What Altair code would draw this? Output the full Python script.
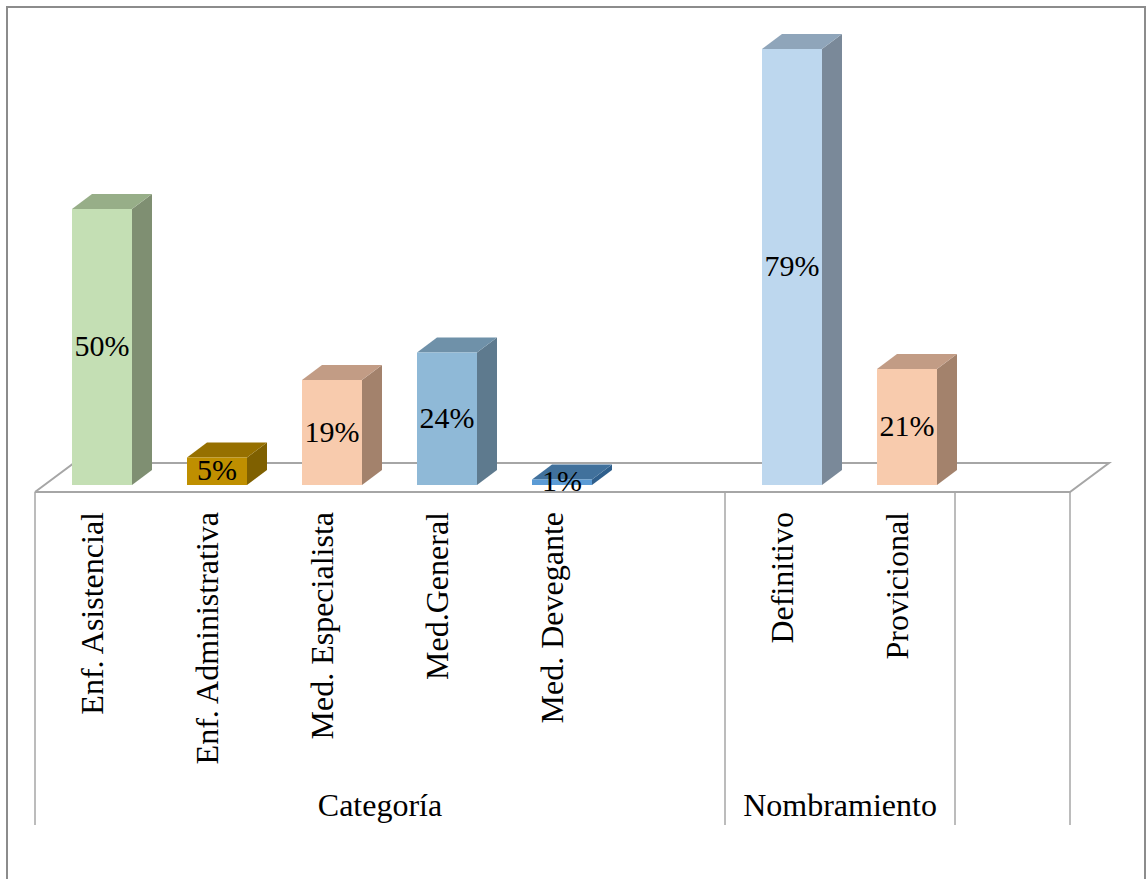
import altair as alt
import pandas as pd

# ---- data -------------------------------------------------------------
categories = ["Enf. Asistencial", "Enf. Administrativa", "Med. Especialista",
              "Med.General", "Med. Devegante", "Definitivo", "Provicional"]
slots = [0, 1, 2, 3, 4, 6, 7]            # slot 5 and slot 8 stay empty
values = [50, 5, 19, 24, 1, 79, 21]       # percent
labels = ["50%", "5%", "19%", "24%", "1%", "79%", "21%"]

groups = ["Categoría", "Nombramiento"]
group_start = [0, 6]
group_end = [6, 8]
n_slots = 9

front_colors = ["#C4DFB4", "#BF8F00", "#F8CBAD", "#8FB9D7", "#5B9BD5", "#BDD7EE", "#F8CBAD"]
side_colors = ["#7F8F72", "#7F6000", "#A3826C", "#5E7A8E", "#2F5F8C", "#7A8999", "#A3826C"]
top_colors = ["#97AE88", "#967000", "#C29C85", "#6F91A9", "#41719C", "#8FA5BA", "#C29C85"]

# ---- geometry of the pseudo-3D look (converted to data units) ----------
X0, X1 = 35, 1070                 # pixel span of the category axis
SLOT_PX = (X1 - X0) / n_slots
Y_BASE = 485                      # pixel row of value 0
PX_PER_PCT = 5.52
Y_TOP_VAL = 80

bar_w = 60 / SLOT_PX
bar_off = 9.5 / SLOT_PX           # bars sit a little back on the floor
dx = 20 / SLOT_PX                 # bar depth
dy = 15 / PX_PER_PCT
floor_front = -7 / PX_PER_PCT
floor_back = 22 / PX_PER_PCT
floor_dx = 39 / SLOT_PX
label_top = -27 / PX_PER_PCT
sep_bottom = -340 / PX_PER_PCT
group_y = -321 / PX_PER_PCT

xs = alt.Scale(domain=[0, n_slots], range=[X0, X1], zero=False, nice=False)
ys = alt.Scale(domain=[0, Y_TOP_VAL], range=[Y_BASE, Y_BASE - Y_TOP_VAL * PX_PER_PCT],
               zero=False, nice=False)

front_rows, side_rows, top_rows = [], [], []
for name, s, v, fc, sc, tc, lab in zip(categories, slots, values, front_colors,
                                       side_colors, top_colors, labels):
    c = s + 0.5 + bar_off
    L, R = c - bar_w / 2, c + bar_w / 2
    front_rows.append(dict(name=name, L=L, R=R, v=v, mid=v / 2, c=c, color=fc, label=lab))
    side_rows += [dict(name=name, x=R, y=0, y2=v, color=sc),
                  dict(name=name, x=R + dx, y=dy, y2=v + dy, color=sc)]
    top_rows += [dict(name=name, y=v, x=L, x2=R, color=tc),
                 dict(name=name, y=v + dy, x=L + dx, x2=R + dx, color=tc)]

front = pd.DataFrame(front_rows)
value_df = front[["c", "mid", "label"]].copy()
side = pd.DataFrame(side_rows)
top = pd.DataFrame(top_rows)

floor = pd.DataFrame([
    dict(o=0, x=0, y=floor_front),
    dict(o=1, x=n_slots, y=floor_front),
    dict(o=2, x=n_slots + floor_dx, y=floor_back),
    dict(o=3, x=floor_dx, y=floor_back),
    dict(o=4, x=0, y=floor_front),
])

seps = pd.DataFrame({"x": [0] + group_end + [n_slots]})
seps["y"] = floor_front
seps["y2"] = sep_bottom

cat_labels = pd.DataFrame({"name": categories, "x": [s + 0.5 for s in slots], "y": label_top})
grp_labels = pd.DataFrame({"name": groups,
                           "x": [(a + b) / 2 for a, b in zip(group_start, group_end)],
                           "y": group_y})

FONT = "Liberation Serif"
GRID = "#A6A6A6"

frame = alt.Chart(pd.DataFrame({"k": [0]})).mark_rect(
    fill=None, stroke="#8C8C8C", strokeWidth=2
).encode(x=alt.value(7), x2=alt.value(1145), y=alt.value(7), y2=alt.value(900))

floor_line = alt.Chart(floor).mark_line(color=GRID, strokeWidth=2).encode(
    x=alt.X("x:Q", scale=xs, axis=None),
    y=alt.Y("y:Q", scale=ys, axis=None),
    order="o:Q",
)

sep_rules = alt.Chart(seps).mark_rule(color=GRID, strokeWidth=1.5).encode(
    x=alt.X("x:Q", scale=xs, axis=None),
    y=alt.Y("y:Q", scale=ys, axis=None),
    y2="y2:Q",
)

side_faces = alt.Chart(side).mark_area(orient="vertical").encode(
    x=alt.X("x:Q", scale=xs, axis=None),
    y=alt.Y("y:Q", scale=ys, axis=None),
    y2="y2:Q",
    color=alt.Color("color:N", scale=None),
    detail="name:N",
)

top_faces = alt.Chart(top).mark_area(orient="horizontal").encode(
    y=alt.Y("y:Q", scale=ys, axis=None),
    x=alt.X("x:Q", scale=xs, axis=None),
    x2="x2:Q",
    color=alt.Color("color:N", scale=None),
    detail="name:N",
)

front_faces = alt.Chart(front).mark_rect().encode(
    x=alt.X("L:Q", scale=xs, axis=None),
    x2="R:Q",
    y=alt.Y("v:Q", scale=ys, axis=None),
    y2=alt.datum(0),
    color=alt.Color("color:N", scale=None),
)

value_text = alt.Chart(value_df).mark_text(
    font=FONT, fontSize=30, color="black", baseline="middle", align="center"
).encode(
    x=alt.X("c:Q", scale=xs, axis=None),
    y=alt.Y("mid:Q", scale=ys, axis=None),
    text="label:N",
)

cat_text = alt.Chart(cat_labels).mark_text(
    font=FONT, fontSize=32, color="black", angle=270, align="right", baseline="middle"
).encode(
    x=alt.X("x:Q", scale=xs, axis=None),
    y=alt.Y("y:Q", scale=ys, axis=None),
    text="name:N",
)

grp_text = alt.Chart(grp_labels).mark_text(
    font=FONT, fontSize=32, color="black", align="center", baseline="middle"
).encode(
    x=alt.X("x:Q", scale=xs, axis=None),
    y=alt.Y("y:Q", scale=ys, axis=None),
    text="name:N",
)

chart = alt.layer(
    frame, floor_line, sep_rules, side_faces, top_faces, front_faces,
    value_text, cat_text, grp_text,
).properties(
    width=1146, height=879, padding=0, autosize=alt.AutoSizeParams(type="none"),
    background="white",
).configure_view(stroke=None).configure_text(font=FONT)

chart.save("out.html", embed_options={"renderer": "svg", "actions": False})
